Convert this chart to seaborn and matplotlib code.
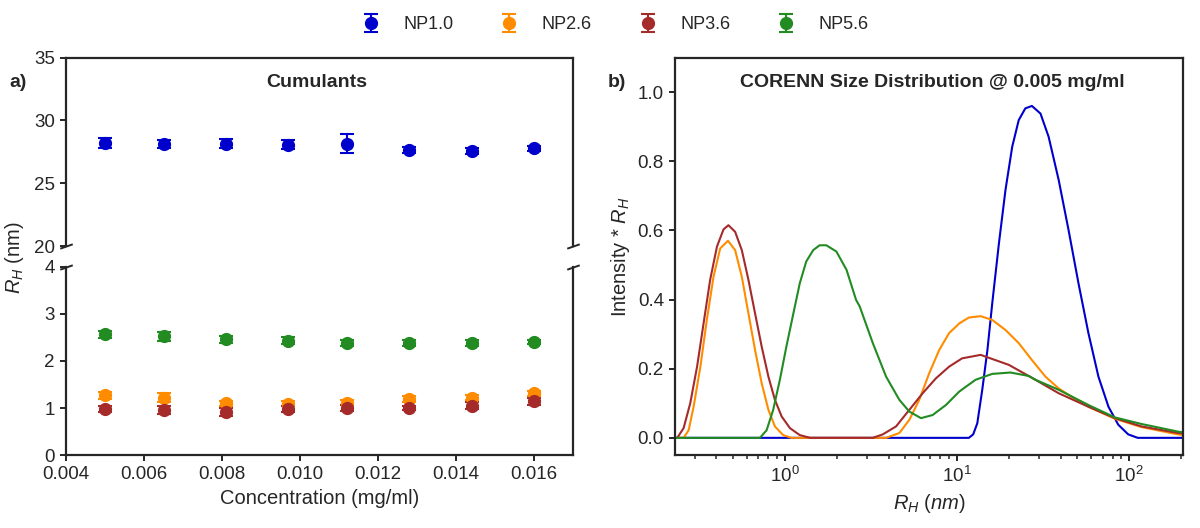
import matplotlib
matplotlib.use("Agg")
import matplotlib.pyplot as plt
import seaborn as sns

# ---- data: cumulants R_H vs concentration ----
conc = [0.005, 0.0065, 0.0081, 0.0097, 0.0112, 0.0128, 0.0144, 0.016]
names = ["NP1.0", "NP2.6", "NP3.6", "NP5.6"]
colors = ["#0000CD", "#FF8C00", "#A52A2A", "#228B22"]

rh_np10 = [28.2, 28.1, 28.15, 28.05, 28.15, 27.65, 27.55, 27.8]
err_np10 = [0.4, 0.3, 0.35, 0.35, 0.75, 0.25, 0.25, 0.2]
rh_np26 = [1.27, 1.22, 1.10, 1.09, 1.11, 1.19, 1.22, 1.31]
err_np26 = [0.07, 0.09, 0.05, 0.05, 0.05, 0.07, 0.06, 0.05]
rh_np36 = [0.98, 0.96, 0.91, 0.98, 1.0, 1.0, 1.05, 1.14]
err_np36 = [0.07, 0.08, 0.08, 0.07, 0.06, 0.05, 0.07, 0.08]
rh_np56 = [2.56, 2.52, 2.46, 2.43, 2.38, 2.38, 2.38, 2.40]
err_np56 = [0.07, 0.09, 0.07, 0.07, 0.07, 0.06, 0.06, 0.05]

# ---- data: CORENN size distributions @ 0.005 mg/ml ----
dist_np10_x = [0.23, 11.7, 12.4, 13.1, 14.0, 15.0, 16.0, 17.5, 19.1, 20.9, 22.8, 24.9, 27.2,
               30.5, 34.0, 38.9, 44.4, 50.7, 57.9, 66.2, 75.7, 86.3, 98.6, 112, 205]
dist_np10_y = [0, 0, 0.01, 0.042, 0.139, 0.254, 0.389, 0.563, 0.717, 0.842, 0.919, 0.953, 0.960,
               0.938, 0.871, 0.746, 0.601, 0.447, 0.303, 0.177, 0.090, 0.038, 0.010, 0, 0]

dist_np26_x = [0.23, 0.258, 0.276, 0.295, 0.323, 0.352, 0.385, 0.421, 0.467, 0.514, 0.562, 0.614,
               0.671, 0.733, 0.802, 0.875, 0.977, 1.09, 3.87, 4.62, 5.28, 6.03, 6.89, 7.87, 8.99,
               10.3, 11.7, 13.7, 16.0, 19.1, 22.8, 27.2, 32.6, 38.9, 48.5, 57.9, 82.6, 118, 192, 205]
dist_np26_y = [0, 0, 0.022, 0.09, 0.206, 0.341, 0.466, 0.548, 0.570, 0.543, 0.466, 0.36,
               0.254, 0.158, 0.081, 0.033, 0.008, 0, 0, 0.014, 0.052, 0.11, 0.187, 0.254, 0.303,
               0.331, 0.348, 0.352, 0.341, 0.312, 0.274, 0.225, 0.177, 0.143, 0.112, 0.09, 0.055,
               0.031, 0.010, 0.008]

dist_np36_x = [0.23, 0.237, 0.258, 0.282, 0.309, 0.337, 0.368, 0.403, 0.440, 0.470, 0.514, 0.562,
               0.614, 0.671, 0.733, 0.802, 0.875, 0.957, 1.07, 1.22, 1.40, 3.24, 3.70, 4.42, 5.28,
               6.31, 7.53, 8.99, 10.7, 13.7, 20.0, 28.5, 38.9, 57.9, 82.6, 118, 192, 205]
dist_np36_y = [0, 0, 0.028, 0.10, 0.206, 0.331, 0.457, 0.553, 0.603, 0.615, 0.596, 0.543,
               0.457, 0.36, 0.264, 0.177, 0.11, 0.062, 0.028, 0.008, 0, 0, 0.01, 0.033, 0.081,
               0.129, 0.172, 0.206, 0.23, 0.24, 0.211, 0.168, 0.129, 0.09, 0.057, 0.033, 0.014, 0.013]

dist_np56_x = [0.23, 0.716, 0.783, 0.855, 0.935, 1.02, 1.12, 1.22, 1.33, 1.46, 1.59, 1.74, 1.99,
               2.28, 2.59, 2.72, 3.24, 3.87, 4.62, 5.28, 6.17, 7.21, 8.61, 10.3, 12.8, 16.0, 20.4,
               26.1, 28.5, 38.9, 57.9, 82.6, 118, 192, 205]
dist_np56_y = [0, 0, 0.022, 0.081, 0.168, 0.264, 0.36, 0.447, 0.51, 0.543, 0.557, 0.557, 0.539,
               0.486, 0.399, 0.38, 0.274, 0.177, 0.11, 0.076, 0.057, 0.066, 0.095, 0.134, 0.168,
               0.185, 0.189, 0.179, 0.168, 0.139, 0.095, 0.059, 0.04, 0.018, 0.016]

cum_vals = [rh_np10, rh_np26, rh_np36, rh_np56]
cum_errs = [err_np10, err_np26, err_np36, err_np56]
dist_x = [dist_np10_x, dist_np26_x, dist_np36_x, dist_np56_x]
dist_y = [dist_np10_y, dist_np26_y, dist_np36_y, dist_np56_y]

# ---- style ----
sns.set_theme(style="ticks")
plt.rcParams['font.family'] = ['Liberation Sans', 'DejaVu Sans']
plt.rcParams['mathtext.fontset'] = 'custom'
plt.rcParams['mathtext.rm'] = 'Liberation Sans'
plt.rcParams['mathtext.it'] = 'Liberation Sans:italic'
plt.rcParams['axes.linewidth'] = 1.6
plt.rcParams['axes.edgecolor'] = '.15'
for k in ['xtick', 'ytick']:
    plt.rcParams[k + '.major.width'] = 1.4
    plt.rcParams[k + '.minor.width'] = 1.1
    plt.rcParams[k + '.major.size'] = 4.5
    plt.rcParams[k + '.minor.size'] = 3
    plt.rcParams[k + '.labelsize'] = 13.5

fig = plt.figure(figsize=(12, 5.28), dpi=100)
ax_top = fig.add_axes([0.055, 0.534, 0.4225, 0.357])
ax_bot = fig.add_axes([0.055, 0.138, 0.4225, 0.357])
ax_r = fig.add_axes([0.5625, 0.138, 0.4233, 0.753])

# ---- panel a: broken-axis cumulants ----
handles = []
for ax in (ax_top, ax_bot):
    for name, col, vals, errs in zip(names, colors, cum_vals, cum_errs):
        h = ax.errorbar(conc, vals, yerr=errs, fmt='o', color=col, ms=8.5,
                        capsize=5, elinewidth=1.5, capthick=1.5, label=name)
        if ax is ax_bot:
            handles.append(h)

ax_top.set_ylim(20, 35)
ax_bot.set_ylim(0, 4)
for ax in (ax_top, ax_bot):
    ax.set_xlim(0.004, 0.017)
ax_top.set_yticks([20, 25, 30, 35])
ax_bot.set_yticks([0, 1, 2, 3, 4])
ax_bot.set_xticks([0.004, 0.006, 0.008, 0.010, 0.012, 0.014, 0.016])
ax_bot.set_xticklabels(['0.004', '0.006', '0.008', '0.010', '0.012', '0.014', '0.016'])
ax_top.spines['bottom'].set_visible(False)
ax_bot.spines['top'].set_visible(False)
ax_top.tick_params(axis='x', bottom=False, labelbottom=False)
ax_bot.set_xlabel('Concentration (mg/ml)', fontsize=14.5)

# break marks
kw = dict(marker=[(-1, -0.35), (1, 0.35)], markersize=9, linestyle='none',
          color='.15', mec='.15', mew=1.4, clip_on=False)
ax_top.plot([0, 1], [0, 0], transform=ax_top.transAxes, **kw)
ax_bot.plot([0, 1], [1, 1], transform=ax_bot.transAxes, **kw)

fig.text(0.012, 0.513, '$R_H$ (nm)', rotation=90, ha='center', va='center', fontsize=14.5)
fig.text(0.264, 0.843, 'Cumulants', ha='center', va='center', fontsize=14, weight='bold')
fig.text(0.015, 0.843, 'a)', ha='center', va='center', fontsize=14, weight='bold')

# ---- panel b: CORENN distributions ----
for name, col, xs, ys in zip(names, colors, dist_x, dist_y):
    sns.lineplot(x=xs, y=ys, color=col, lw=1.5, estimator=None, sort=False, ax=ax_r)
ax_r.set_xscale('log')
ax_r.set_xlim(0.23, 205)
ax_r.set_ylim(-0.05, 1.1)
ax_r.set_yticks([0.0, 0.2, 0.4, 0.6, 0.8, 1.0])
ax_r.set_yticklabels(['0.0', '0.2', '0.4', '0.6', '0.8', '1.0'])
ax_r.set_xlabel('$R_H$ $(nm)$', fontsize=14.5)
ax_r.set_ylabel('Intensity * $R_H$', fontsize=14.5)
fig.text(0.777, 0.843, 'CORENN Size Distribution @ 0.005 mg/ml', ha='center', va='center',
         fontsize=14, weight='bold')
fig.text(0.514, 0.843, 'b)', ha='center', va='center', fontsize=14, weight='bold')

fig.legend(handles, names, loc='center', bbox_to_anchor=(0.509, 0.953), ncol=4,
           frameon=False, fontsize=13, columnspacing=2.1, handletextpad=0.8)

fig.savefig('out.png', dpi=100)
